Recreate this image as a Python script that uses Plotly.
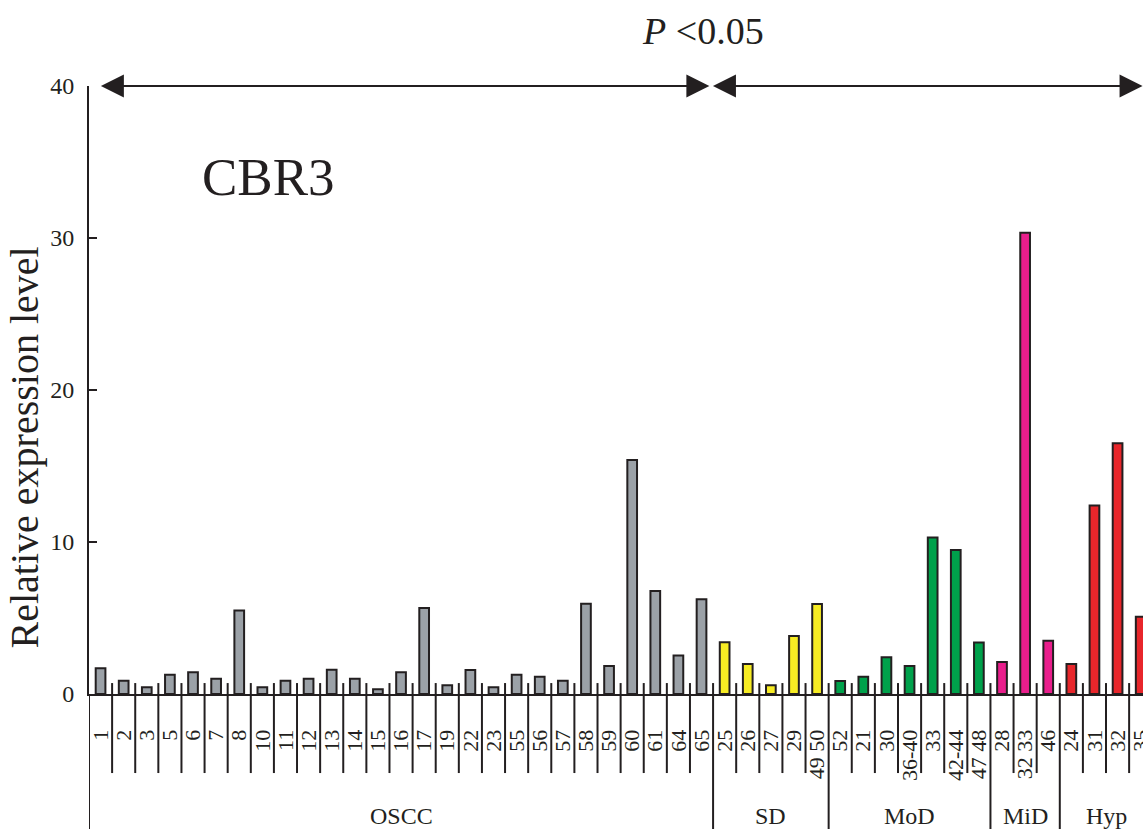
import plotly.graph_objects as go

# ---- data ----
oscc_labels = ["1", "2", "3", "5", "6", "7", "8", "10", "11", "12", "13", "14", "15", "16",
               "17", "19", "22", "23", "55", "56", "57", "58", "59", "60", "61", "64", "65"]
oscc_values = [1.7, 0.87, 0.44, 1.27, 1.43, 1.0, 5.5, 0.44, 0.87, 1.0, 1.6, 1.0, 0.31, 1.43,
               5.66, 0.57, 1.58, 0.44, 1.27, 1.14, 0.87, 5.94, 1.84, 15.4, 6.78, 2.54, 6.23]
sd_labels = ["25", "26", "27", "29", "49 50"]
sd_values = [3.4, 1.97, 0.57, 3.82, 5.92]
mod_labels = ["52", "21", "30", "36-40", "33", "42-44", "47 48"]
mod_values = [0.86, 1.14, 2.41, 1.84, 10.3, 9.47, 3.38]
mid_labels = ["28", "32 33", "46"]
mid_values = [2.1, 30.35, 3.5]
hyp_labels = ["24", "31", "32", "35"]
hyp_values = [1.97, 12.4, 16.5, 5.08]

group_names = ["OSCC", "SD", "MoD", "MiD", "Hyp"]
group_labels = [oscc_labels, sd_labels, mod_labels, mid_labels, hyp_labels]
group_values = [oscc_values, sd_values, mod_values, mid_values, hyp_values]
group_colors = ["#9ba1a7", "#f7ec23", "#00a14b", "#e91e8c", "#e8262b"]

y_ticks = [0, 10, 20, 30, 40]

FONT = "Liberation Serif"
INK = "#231f20"

fig = go.Figure()

all_labels = []
starts = []
pos = 0
for name, labs, vals, col in zip(group_names, group_labels, group_values, group_colors):
    xs = list(range(pos, pos + len(labs)))
    starts.append(pos)
    fig.add_trace(go.Bar(
        x=xs, y=vals, name=name, width=0.42,
        marker=dict(color=col, line=dict(color=INK, width=2)),
        showlegend=False,
    ))
    all_labels += labs
    pos += len(labs)
n_total = pos

# separators between categories
shapes = []
group_edges = set(starts[1:])
for b in range(1, n_total):
    is_group = b in group_edges
    shapes.append(dict(
        type="line", xref="x", yref="paper",
        x0=b - 0.5, x1=b - 0.5,
        y0=0.018, y1=(-0.23 if is_group else -0.13),
        line=dict(color=INK, width=2),
    ))
# left boundary (axis extension)
shapes.append(dict(type="line", xref="x", yref="paper", x0=-0.5, x1=-0.5,
                   y0=0, y1=-0.23, line=dict(color=INK, width=2)))

annotations = []
# group names
ends = starts[1:] + [n_total]
for name, s, e in zip(group_names, starts, ends):
    annotations.append(dict(
        x=(s + e - 1) / 2, y=-0.2, xref="x", yref="paper",
        text=name, showarrow=False, xanchor="center", yanchor="middle",
        font=dict(family=FONT, size=24, color=INK),
    ))

# double-headed arrows at top
split = starts[1] - 0.5
arrow_common = dict(
    text="", showarrow=True, xref="x", yref="y", axref="x", ayref="y",
    arrowhead=2, startarrowhead=2, arrowsize=2.3, startarrowsize=2.3,
    arrowwidth=2, arrowcolor=INK, arrowside="end+start",
    standoff=0, startstandoff=0,
)
annotations.append(dict(x=split - 0.16, y=40, ax=-0.05, ay=40, **arrow_common))
annotations.append(dict(x=45.08, y=40, ax=split - 0.07, ay=40, **arrow_common))

annotations.append(dict(
    x=0.5825, y=1.09, xref="paper", yref="paper",
    text="<i>P</i> &lt;0.05", showarrow=False, xanchor="center", yanchor="middle",
    font=dict(family=FONT, size=38, color=INK),
))
annotations.append(dict(
    x=0.17, y=0.85, xref="paper", yref="paper",
    text="CBR3", showarrow=False, xanchor="center", yanchor="middle",
    font=dict(family=FONT, size=53, color=INK),
))
annotations.append(dict(
    x=-0.061, y=0.405, xref="paper", yref="paper",
    text="Relative expression level", showarrow=False, textangle=-90,
    xanchor="center", yanchor="middle",
    font=dict(family=FONT, size=40, color=INK),
))

fig.update_layout(
    width=1143, height=829,
    margin=dict(l=89, r=0, t=86, b=135),
    plot_bgcolor="white", paper_bgcolor="white",
    bargap=0.5,
    shapes=shapes,
    annotations=annotations,
    xaxis=dict(
        range=[-0.5, 45.1], automargin=False,
        tickvals=list(range(n_total)), ticktext=all_labels,
        tickangle=-90, ticks="", showgrid=False, zeroline=False,
        showline=True, linecolor=INK, linewidth=2,
        tickfont=dict(family=FONT, size=22, color=INK),
        ticklabelstandoff=25, ticklabeloverflow="allow",
    ),
    yaxis=dict(
        range=[0, 40], tickvals=y_ticks, automargin=False,
        ticks="inside", ticklen=8, tickwidth=2, tickcolor=INK,
        showline=True, linecolor=INK, linewidth=2,
        showgrid=False, zeroline=False,
        tickfont=dict(family=FONT, size=24, color=INK),
        ticklabelstandoff=8,
    ),
)

fig.write_html("out.html")
